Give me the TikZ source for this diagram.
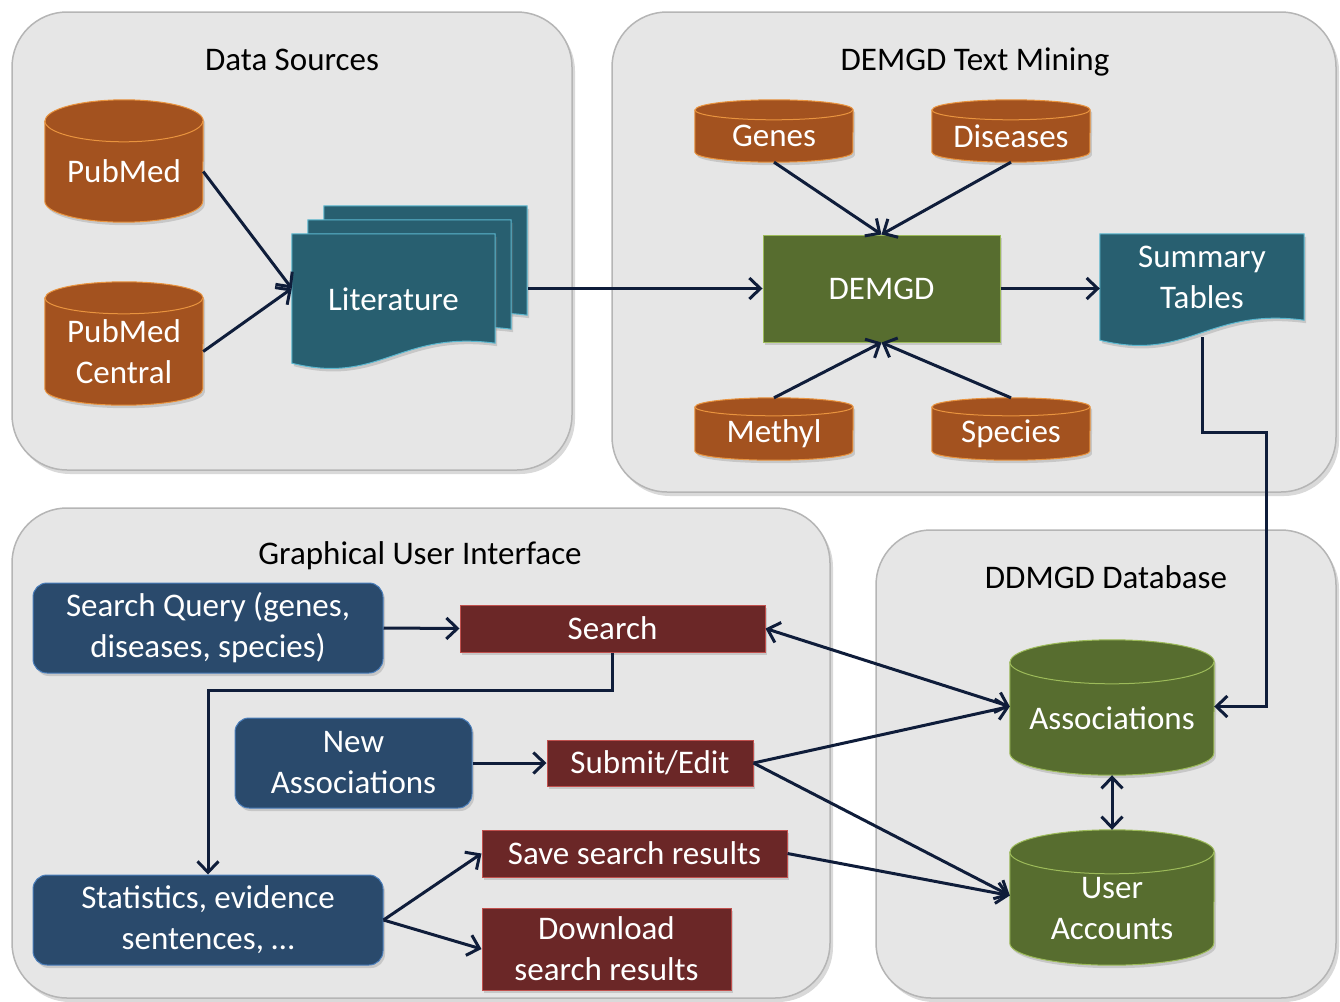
\documentclass[tikz,border=0pt]{standalone}
\usepackage{fontspec}
\setmainfont{Carlito}
\usetikzlibrary{calc,arrows.meta,shadows}

\definecolor{orfill}{HTML}{A3521F}
\definecolor{orline}{HTML}{E9943F}
\definecolor{tlfill}{HTML}{285F70}
\definecolor{tlline}{HTML}{5BB8D0}
\definecolor{grfill}{HTML}{576D2F}
\definecolor{grline}{HTML}{9DBB5A}
\definecolor{blfill}{HTML}{2A4A6C}
\definecolor{blline}{HTML}{4A7EBB}
\definecolor{rdfill}{HTML}{6B2727}
\definecolor{rdline}{HTML}{C0504D}
\definecolor{arrcol}{HTML}{0F1D3A}
\definecolor{pnfill}{HTML}{E6E6E6}
\definecolor{pnline}{HTML}{B5B5B5}

\pgfdeclarelayer{panel}
\pgfdeclarelayer{shape}
\pgfsetlayers{panel,shape,main}

\newcommand{\bodyfont}{\fontsize{33}{41}\selectfont}

\tikzset{
  panelbox/.style={fill=pnfill, draw=pnline, line width=1.5pt, rounded corners=55pt,
    drop shadow={opacity=0.3, shadow xshift=3pt, shadow yshift=-4pt}},
  title/.style={text=black},
  txt/.style={text=white, align=center, inner sep=0pt},
  shadowed/.style={drop shadow={opacity=0.3, shadow xshift=2pt, shadow yshift=-3pt}},
  redbox/.style={txt, fill=rdfill, draw=rdline, line width=1pt, shadowed},
  bluebox/.style={txt, fill=blfill, draw=blline, line width=1pt, rounded corners=14pt, shadowed},
  greenbox/.style={txt, fill=grfill, draw=grline, line width=1pt, shadowed},
  arr/.style={draw=arrcol, line width=3pt, -{Straight Barb[length=11pt,width=21pt,line width=3pt]}},
  darr/.style={draw=arrcol, line width=3pt, {Straight Barb[length=11pt,width=21pt,line width=3pt]}-{Straight Barb[length=11pt,width=21pt,line width=3pt]}}
}

% cylinder round a node: node, x radius, y radius, fill, line
\newcommand{\cyl}[5]{%
  \begin{pgfonlayer}{shape}
    \filldraw[fill=#4, draw=#5, line width=1pt, shadowed] ($(#1.north west)+(0,-#3)$) -- (#1.south west)
      arc[start angle=180, end angle=0, x radius=#2, y radius=#3] -- ($(#1.north east)+(0,-#3)$)
      arc[start angle=0, end angle=-180, x radius=#2, y radius=#3] -- cycle;
    \draw[draw=#5, line width=1pt] ($(#1.north west)+(0,-#3)$)
      arc[start angle=180, end angle=0, x radius=#2, y radius=#3];
  \end{pgfonlayer}}

% document sheet round a node: node, dx, dy
\newcommand{\docshape}[3]{%
  \begin{pgfonlayer}{shape}
    \filldraw[fill=tlfill, draw=tlline, line width=1pt, shadowed]
      ($(#1.north west)+(#2,#3)$) -- ($(#1.north east)+(#2,#3)$) -- ($(#1.south east)+(#2,#3)$)
      .. controls ($(#1.south)+(#2+6,#3-13)$) and ($(#1.south)+(#2-14,#3+42)$) .. ($(#1.south west)+(#2,#3+20)$) -- cycle;
  \end{pgfonlayer}}

\begin{document}
\begin{tikzpicture}[x=1pt, y=-1pt, font=\bodyfont]
  \useasboundingbox (0,0) rectangle (1340,1001);

  % panels
  \begin{pgfonlayer}{panel}
    \path[panelbox] (12,12) rectangle (572,470);
    \path[panelbox] (612,12) rectangle (1336,492);
    \path[panelbox] (12,508) rectangle (830,998);
    \path[panelbox] (876,530) rectangle (1336,998);
  \end{pgfonlayer}
  \node[title] (tsrc) at (292,60) {Data Sources};
  \node[title] (tmin) at (975,62) {DEMGD Text Mining};
  \node[title] (tgui) at (420,556) {Graphical User Interface};
  \node[title] (tdb) at (1106,577) {DDMGD Database};

  % data sources
  \node[txt, minimum width=158, minimum height=59] (pubmed) at (124,171.5) {PubMed};
  \cyl{pubmed}{79}{21}{orfill}{orline}
  \node[txt, minimum width=158, minimum height=75] (pmc) at (124,351.5) {PubMed\\Central};
  \cyl{pmc}{79}{16}{orfill}{orline}
  \node[txt, minimum width=203, minimum height=109] (lit) at (393.5,299) {Literature};
  \docshape{lit}{32}{-38.5}
  \docshape{lit}{16}{-24.5}
  \docshape{lit}{0}{-10.5}

  % text mining
  \node[greenbox, minimum width=237, minimum height=107] (demgd) at (881.5,288.5) {DEMGD};
  \node[txt, minimum width=158, minimum height=32] (genes) at (774,136) {Genes};
  \cyl{genes}{79}{10}{orfill}{orline}
  \node[txt, minimum width=158, minimum height=32] (dis) at (1011,136) {Diseases};
  \cyl{dis}{79}{10}{orfill}{orline}
  \node[txt, minimum width=158, minimum height=35] (methyl) at (774,433.5) {Methyl};
  \cyl{methyl}{79}{9}{orfill}{orline}
  \node[txt, minimum width=158, minimum height=35] (species) at (1011,433.5) {Species};
  \cyl{species}{79}{9}{orfill}{orline}
  \node[txt, minimum width=204, minimum height=86] (sum) at (1202,277) {Summary\\Tables};
  \docshape{sum}{0}{0}

  % database
  \node[txt, minimum width=204, minimum height=69] (assoc) at (1112,718.5) {Associations};
  \cyl{assoc}{102}{22}{grfill}{grline}
  \node[txt, minimum width=204, minimum height=69] (user) at (1112,908.5) {User\\Accounts};
  \cyl{user}{102}{22}{grfill}{grline}

  % user interface
  \node[bluebox, minimum width=350, minimum height=90] (query) at (208,628) {Search Query (genes,\\diseases, species)};
  \node[redbox, minimum width=305, minimum height=47] (search) at (612.5,628.5) {Search};
  \node[bluebox, minimum width=237, minimum height=90] (newas) at (353.5,763) {New\\Associations};
  \node[redbox, minimum width=206, minimum height=46] (submit) at (650,763) {Submit/Edit};
  \node[bluebox, minimum width=350, minimum height=90] (stats) at (208,920) {Statistics, evidence\\sentences, \dots};
  \node[redbox, minimum width=305, minimum height=47] (save) at (634.5,853.5) {Save search results};
  \node[redbox, minimum width=249, minimum height=82] (down) at (606.5,949) {Download\\search results};

  % connectors
  \coordinate (litin) at ($(lit.west)+(0,-10.5)$);
  \coordinate (associn) at ($(assoc.west)+(0,-12)$);
  \coordinate (userin) at ($(user.west)+(0,-13)$);
  \draw[arr] (pubmed.east) -- (litin);
  \draw[arr] (pmc.east) -- (litin);
  \draw[arr] ($(lit.east)+(33,-10.5)$) -- (demgd.west);
  \draw[arr] ($(genes.south)+(0,10)$) -- (demgd.north);
  \draw[arr] ($(dis.south)+(0,10)$) -- (demgd.north);
  \draw[arr] ($(methyl.north)+(0,-18)$) -- (demgd.south);
  \draw[arr] ($(species.north)+(0,-18)$) -- (demgd.south);
  \draw[arr] (demgd.east) -- (demgd.east -| sum.west);
  \draw[arr] ($(sum.south)+(0,17)$) |- ++(64,95) |- ($(assoc.east)+(0,-12)$);
  \draw[arr] (query.east) -- (search.west);
  \draw[arr] (search.south) -- ++(0,38) -| (stats.north);
  \draw[darr] (search.east) -- (associn);
  \draw[arr] (newas.east) -- (submit.west);
  \draw[arr] (submit.east) -- (associn);
  \draw[arr] (submit.east) -- (userin);
  \draw[arr] (save.east) -- (userin);
  \draw[arr] (stats.east) -- (save.west);
  \draw[arr] (stats.east) -- (down.west);
  \draw[darr] ($(assoc.south)+(0,22)$) -- ($(user.north)+(0,-44)$);
\end{tikzpicture}
\end{document}
